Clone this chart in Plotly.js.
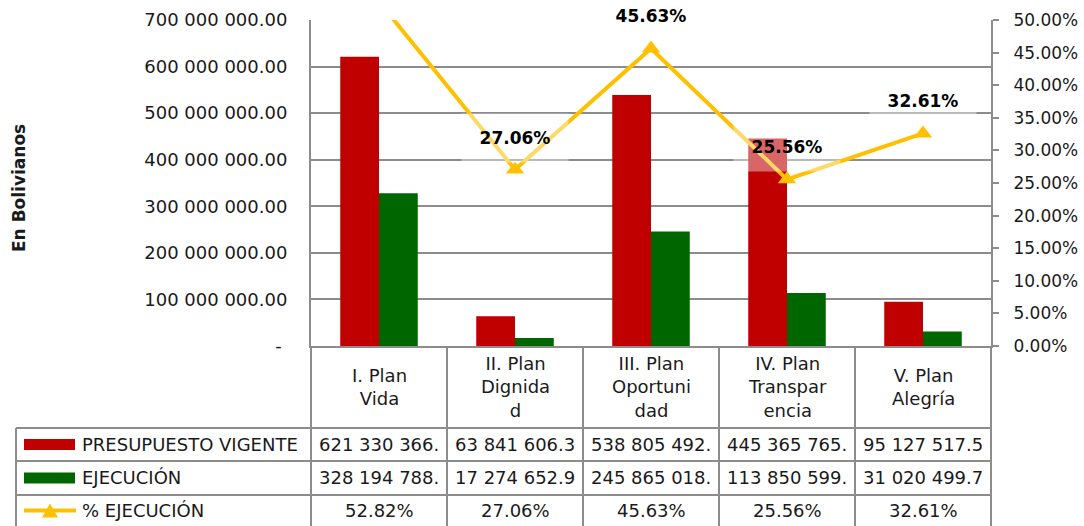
<!DOCTYPE html>
<html>
<head>
<meta charset="utf-8">
<script src="https://cdn.plot.ly/plotly-3.0.1.min.js"></script>
<style>
  html, body { margin: 0; padding: 0; background: #ffffff; }
  #chart { width: 1084px; height: 526px; }
</style>
</head>
<body>
<div id="chart"></div>
<script>
// ---------- DATA ----------
const categories = ['I. Plan Vida', 'II. Plan Dignidad', 'III. Plan Oportunidad', 'IV. Plan Transparencia', 'V. Plan Alegría'];
const headerLabels = ['I. Plan<br>Vida', 'II. Plan<br>Dignida<br>d', 'III. Plan<br>Oportuni<br>dad', 'IV. Plan<br>Transpar<br>encia', 'V. Plan<br>Alegría'];
const presupuesto = [621330366, 63841606.3, 538805492, 445365765, 95127517.5];
const ejecucion = [328194788, 17274652.9, 245865018, 113850599, 31020499.7];
const pctEjecucion = [52.82, 27.06, 45.63, 25.56, 32.61];
const presupuestoText = ['621 330 366.', '63 841 606.3', '538 805 492.', '445 365 765.', '95 127 517.5'];
const ejecucionText = ['328 194 788.', '17 274 652.9', '245 865 018.', '113 850 599.', '31 020 499.7'];
const seriesNames = ['PRESUPUESTO VIGENTE', 'EJECUCIÓN', '% EJECUCIÓN'];
const leftTickVals = [0, 100000000, 200000000, 300000000, 400000000, 500000000, 600000000, 700000000];
const leftTickText = ['-\u00a0', '100 000 000.00', '200 000 000.00', '300 000 000.00', '400 000 000.00', '500 000 000.00', '600 000 000.00', '700 000 000.00'];
const rightTickVals = [0, 5, 10, 15, 20, 25, 30, 35, 40, 45, 50];
const rightTickText = ['0.00%', '5.00%', '10.00%', '15.00%', '20.00%', '25.00%', '30.00%', '35.00%', '40.00%', '45.00%', '50.00%'];
const yTitle = 'En Bolivianos';

// ---------- STYLE ----------
const RED = '#C00000', GREEN = '#006600', GOLD = '#FFC000', GRID = '#8c8c8c', TXT = '#1a1a1a';
const FONT = 'DejaVu Sans, Arial, sans-serif';
const W = 1084, H = 526;
const M = {l: 311, r: 93, t: 20, b: 180};
const PW = W - M.l - M.r, PH = H - M.t - M.b;
const px = p => (p - M.l) / PW;          // pixel x -> paper
const py = p => (M.t + PH - p) / PH;      // pixel y -> paper

const traces = [
  {type: 'bar', name: seriesNames[0], x: categories, y: presupuesto, marker: {color: RED}, hoverinfo: 'skip'},
  {type: 'bar', name: seriesNames[1], x: categories, y: ejecucion, marker: {color: GREEN}, hoverinfo: 'skip'},
  {type: 'scatter', name: seriesNames[2], x: categories, y: pctEjecucion, yaxis: 'y2', mode: 'lines+markers',
   line: {color: GOLD, width: 4}, marker: {symbol: 'triangle-up', size: 16, color: GOLD}, hoverinfo: 'skip'}
];

const annotations = [];
const shapes = [];

// y-axis title
annotations.push({xref: 'paper', yref: 'paper', x: px(19), y: py(188), text: '<b>' + yTitle + '</b>',
  textangle: -90, showarrow: false, xanchor: 'center', yanchor: 'middle', font: {family: FONT, size: 17, color: TXT}});

// data labels for the % line (only those within the axis range)
const y2max = rightTickVals[rightTickVals.length - 1];
pctEjecucion.forEach((v, i) => {
  if (v <= y2max) {
    annotations.push({xref: 'x', yref: 'y2', x: categories[i], y: v, yshift: 32, text: '<b>' + v.toFixed(2) + '%</b>',
      showarrow: false, xanchor: 'center', yanchor: 'middle', width: 106, height: 48, borderpad: 0,
      bgcolor: 'rgba(255,255,255,0.4)', font: {family: FONT, size: 17, color: '#000'}});
  }
});

// table rows
const rowHeaderY = 387, rowY = [444.5, 478, 510.5];
const rowTexts = [presupuestoText, ejecucionText, pctEjecucion.map(v => v.toFixed(2) + '%')];
categories.forEach((c, i) => {
  annotations.push({xref: 'x', yref: 'paper', x: c, y: py(rowHeaderY), text: headerLabels[i], showarrow: false,
    xanchor: 'center', yanchor: 'middle', align: 'center', font: {family: FONT, size: 18, color: TXT}});
  rowTexts.forEach((arr, r) => {
    annotations.push({xref: 'x', yref: 'paper', x: c, y: py(rowY[r]), text: arr[i], showarrow: false,
      xanchor: 'center', yanchor: 'middle', font: {family: FONT, size: 18, color: TXT}});
  });
});
seriesNames.forEach((n, r) => {
  annotations.push({xref: 'paper', yref: 'paper', x: px(80), y: py(rowY[r]), text: n, showarrow: false,
    xanchor: 'left', yanchor: 'middle', font: {family: FONT, size: 18, color: TXT}});
});

// table grid lines
const lineStyle = {color: GRID, width: 2};
const tableBottom = 530;
for (let i = 0; i <= categories.length; i++) {
  const xp = i / categories.length;
  shapes.push({type: 'line', xref: 'paper', yref: 'paper', x0: xp, x1: xp, y0: py(M.t + PH), y1: py(tableBottom), line: lineStyle});
}
shapes.push({type: 'line', xref: 'paper', yref: 'paper', x0: px(16), x1: px(16), y0: py(428), y1: py(tableBottom), line: lineStyle});
[428, 461, 495].forEach(yy => {
  shapes.push({type: 'line', xref: 'paper', yref: 'paper', x0: px(16), x1: 1, y0: py(yy), y1: py(yy), line: lineStyle});
});

// legend keys in the table
shapes.push({type: 'rect', xref: 'paper', yref: 'paper', x0: px(24), x1: px(75), y0: py(rowY[0] + 5.5), y1: py(rowY[0] - 5.5), fillcolor: RED, line: {width: 0}});
shapes.push({type: 'rect', xref: 'paper', yref: 'paper', x0: px(24), x1: px(75), y0: py(rowY[1] + 5.5), y1: py(rowY[1] - 5.5), fillcolor: GREEN, line: {width: 0}});
shapes.push({type: 'line', xref: 'paper', yref: 'paper', x0: px(24), x1: px(76), y0: py(rowY[2]), y1: py(rowY[2]), line: {color: GOLD, width: 4}});
shapes.push({type: 'path', xref: 'paper', yref: 'paper',
  path: 'M ' + px(42) + ' ' + py(rowY[2] + 7) + ' L ' + px(58) + ' ' + py(rowY[2] + 7) + ' L ' + px(50) + ' ' + py(rowY[2] - 7) + ' Z',
  fillcolor: GOLD, line: {width: 0}});

const layout = {
  width: W, height: H,
  margin: M,
  paper_bgcolor: '#ffffff', plot_bgcolor: '#ffffff',
  showlegend: false,
  barmode: 'group', bargap: 0.43, bargroupgap: 0,
  font: {family: FONT, size: 18, color: TXT},
  xaxis: {type: 'category', showticklabels: false, showgrid: false, zeroline: false,
    showline: true, linecolor: GRID, linewidth: 2, ticks: '', fixedrange: true},
  yaxis: {range: [0, 700000000], tickvals: leftTickVals, ticktext: leftTickText, showgrid: true, gridcolor: GRID, gridwidth: 2,
    zeroline: false, showline: true, linecolor: GRID, linewidth: 2, ticks: '', ticklabelstandoff: 18,
    tickfont: {family: FONT, size: 18, color: TXT}, fixedrange: true},
  yaxis2: {overlaying: 'y', side: 'right', range: [0, 50], tickvals: rightTickVals, ticktext: rightTickText,
    showgrid: false, zeroline: false, showline: true, linecolor: GRID, linewidth: 2,
    ticks: 'outside', ticklen: 6, tickwidth: 2, tickcolor: GRID, ticklabelstandoff: 11,
    tickfont: {family: FONT, size: 17, color: TXT}, fixedrange: true},
  annotations: annotations,
  shapes: shapes
};

Plotly.newPlot('chart', traces, layout, {staticPlot: true, displayModeBar: false});
</script>
</body>
</html>
